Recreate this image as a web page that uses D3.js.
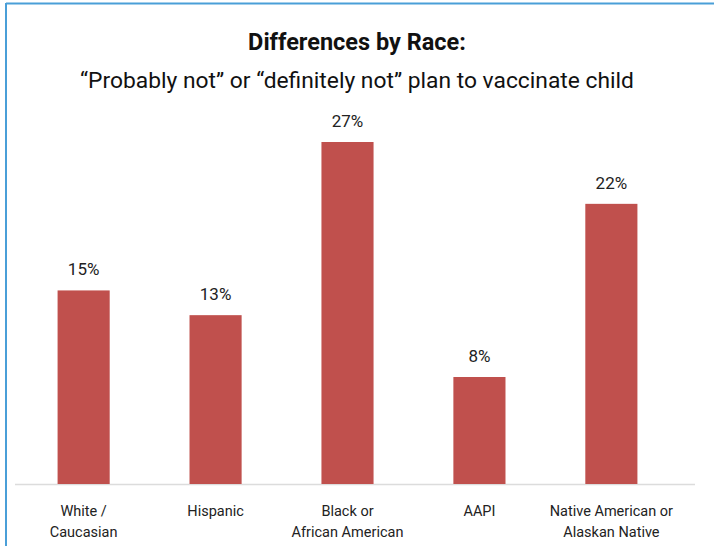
<!DOCTYPE html>
<html>
<head>
<meta charset="utf-8">
<script src="https://cdn.jsdelivr.net/npm/d3@7"></script>
<style>
  html, body { margin: 0; padding: 0; background: #fff; }
  svg { display: block; font-family: Roboto, "Noto Sans", sans-serif; }
</style>
</head>
<body>
<svg id="chart" width="714" height="546"></svg>
<script>
// Survey share answering "probably not" / "definitely not", by race
const categories = ["White / Caucasian", "Hispanic", "Black or African American", "AAPI", "Native American or Alaskan Native"];
const categoryLines = [["White /", "Caucasian"], ["Hispanic"], ["Black or", "African American"], ["AAPI"], ["Native American or", "Alaskan Native"]];
const values = [15, 13, 27, 8, 22];
const valueLabels = ["15%", "13%", "27%", "8%", "22%"];

const svg = d3.select("#chart");
const W = 714, H = 546;
const baseY = 484;

// Frame
svg.append("line").attr("x1", 6).attr("x2", W).attr("y1", 3.5).attr("y2", 3.5)
  .attr("stroke", "#4a9fd8").attr("stroke-width", 2);
svg.append("line").attr("x1", 6).attr("x2", 6).attr("y1", 3).attr("y2", H)
  .attr("stroke", "#4a9fd8").attr("stroke-width", 2);

// Titles
svg.append("text").attr("x", 357).attr("y", 50).attr("text-anchor", "middle")
  .attr("font-size", 23.5).attr("font-weight", "bold").attr("fill", "#111")
  .text("Differences by Race:");
svg.append("text").attr("x", 357).attr("y", 88).attr("text-anchor", "middle")
  .attr("font-size", 22.8).attr("fill", "#111")
  .text("\u201cProbably not\u201d or \u201cdefinitely not\u201d plan to vaccinate child");

// Scales (value axis starts a little below zero)
const x = d3.scaleBand().domain(categories).range([18, 677]).paddingInner(0.605).paddingOuter(0.3);
const y = d3.scaleLinear().domain([-0.65, 27]).range([baseY, 142]);

// Baseline
svg.append("line").attr("x1", 15).attr("x2", 695).attr("y1", baseY + 0.5).attr("y2", baseY + 0.5)
  .attr("stroke", "#dcdcdc").attr("stroke-width", 1.5);

// Bars
svg.selectAll("rect.bar").data(values).join("rect").attr("class", "bar")
  .attr("x", (d, i) => x(categories[i]))
  .attr("width", x.bandwidth())
  .attr("y", d => y(d))
  .attr("height", d => y.range()[0] - y(d))
  .attr("fill", "#c0504d");

// Value labels
svg.selectAll("text.val").data(values).join("text").attr("class", "val")
  .attr("x", (d, i) => x(categories[i]) + x.bandwidth() / 2)
  .attr("y", d => y(d) - 15)
  .attr("text-anchor", "middle").attr("font-size", 17).attr("fill", "#222")
  .text((d, i) => valueLabels[i]);

// Category labels
const cat = svg.selectAll("text.cat").data(categories).join("text").attr("class", "cat")
  .attr("text-anchor", "middle").attr("font-size", 14.5).attr("fill", "#222")
  .attr("transform", d => `translate(${x(d) + x.bandwidth() / 2},${baseY + 32})`);
cat.selectAll("tspan").data((d, i) => categoryLines[i]).join("tspan")
  .attr("x", 0).attr("dy", (d, j) => j === 0 ? 0 : 21).text(d => d);
</script>
</body>
</html>
